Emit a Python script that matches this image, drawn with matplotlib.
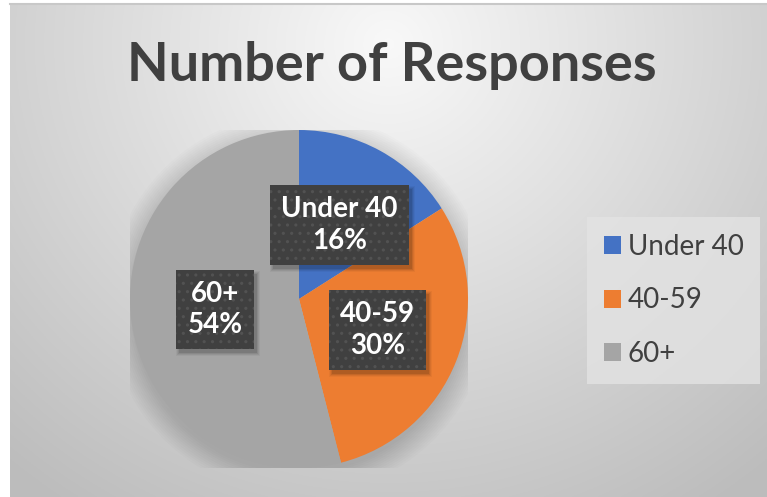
import numpy as np
import matplotlib
matplotlib.use("Agg")
import matplotlib.pyplot as plt
from matplotlib.patches import Patch, Circle, Rectangle
from matplotlib.transforms import IdentityTransform

# ---- data ----
categories = ["Under 40", "40-59", "60+"]
values = [16, 30, 54]
colors = ["#4472C4", "#ED7D31", "#A5A5A5"]
title = "Number of Responses"

plt.rcParams["hatch.linewidth"] = 1.1

W, H = 767, 497
fig = plt.figure(figsize=(W / 100, H / 100), dpi=100)
fig.patch.set_facecolor("white")

# ---- background gradient (chart area) ----
x0, y_top = 10, 4
bg_ax = fig.add_axes([x0 / W, 0, (W - x0) / W, (H - y_top) / H])
bg_ax.set_axis_off()
gx = np.linspace(0, 1, 400)
gy = np.linspace(0, 1, 300)
GX, GY = np.meshgrid(gx, gy)
d = np.sqrt(((GX - 0.5) / 0.75) ** 2 + ((GY - 0.08) / 1.1) ** 2)
val = np.clip(0.975 - 0.23 * np.clip(d, 0, 1.2), 0.74, 0.98)
img = np.dstack([val, val, val])
bg_ax.imshow(img, extent=[0, 1, 0, 1], origin="upper", aspect="auto")
bg_ax.set_xlim(0, 1)
bg_ax.set_ylim(0, 1)
bg_ax.plot([0, 1], [1, 1], color="#c8c8c8", lw=1.5, transform=bg_ax.transAxes, clip_on=False)

# ---- pie ----
cx, cy, r = 299, 299, 169
ax = fig.add_axes([(cx - r) / W, (H - cy - r) / H, 2 * r / W, 2 * r / H])
ax.set_axis_off()

for i in range(12):
    ax.add_patch(Circle((0.0, -0.03), 1.0 + 0.012 * i, color="black",
                        alpha=0.012, lw=0, zorder=0))

wedges, texts, autotexts = ax.pie(
    values, colors=colors, startangle=90, counterclock=False,
    autopct="%1.0f%%", pctdistance=0.5, radius=1.0,
    wedgeprops=dict(linewidth=0), frame=False)
ax.set_xlim(-1, 1)
ax.set_ylim(-1, 1)

for cat, at in zip(categories, autotexts):
    pct = at.get_text()
    at.set_text(f"{cat}\n{pct}")
    at.set_fontsize(20)
    at.set_fontweight("bold")
    at.set_fontfamily("Lato")
    at.set_color("white")
    at.set_linespacing(1.25)
    at.set_zorder(5)
    at.set_bbox(dict(boxstyle="square,pad=0.4", facecolor="#404040",
                     edgecolor="#525252", linewidth=0, hatch=".."))

# ---- title ----
fig.text(392 / W, 1 - 66 / H, title, ha="center", va="center",
         fontsize=39, fontweight="bold", family="Lato", color="#404040")

# ---- legend ----
handles = [Patch(facecolor=c, edgecolor="none") for c in colors]
leg = fig.legend(handles, categories, loc="upper left",
                 bbox_to_anchor=(587 / W, 1 - 217 / H), bbox_transform=fig.transFigure,
                 borderaxespad=0, frameon=True, fancybox=False,
                 prop=dict(family="Lato", size=20),
                 handlelength=0.62, handleheight=0.62, handletextpad=0.25,
                 labelspacing=1.0, borderpad=0.6)
leg.get_frame().set_facecolor("#e3e3e3")
leg.get_frame().set_edgecolor("none")
for t in leg.get_texts():
    t.set_color("#404040")

# ---- soft shadows behind label boxes ----
fig.canvas.draw()
for at in autotexts:
    bb = at.get_bbox_patch().get_window_extent()
    for k, a in zip(range(4), [0.10, 0.08, 0.06, 0.04]):
        p = Rectangle((bb.x0 + 3 - k, bb.y0 - 4 - k), bb.width + 2 * k,
                      bb.height + 2 * k, facecolor="black", alpha=a, lw=0)
        ax.add_artist(p)
        p.set_transform(IdentityTransform())
        p.set_zorder(4)

fig.savefig("out.png", dpi=100)
